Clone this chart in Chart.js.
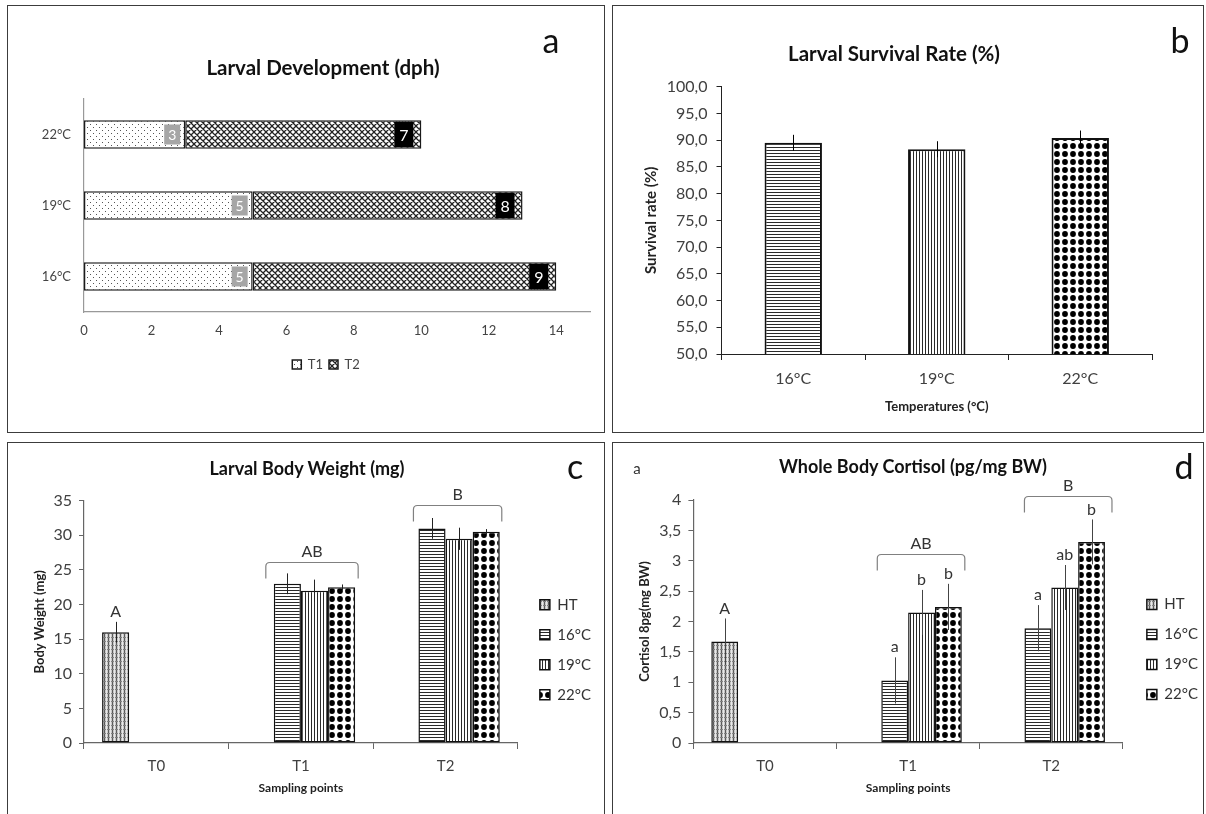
<!DOCTYPE html>
<html><head><meta charset="utf-8">
<script src="https://cdn.jsdelivr.net/npm/chart.js@4.4.1/dist/chart.umd.min.js"></script>
<style>
html,body{margin:0;padding:0;background:#fff;}
body{width:1206px;height:814px;overflow:hidden;position:relative;font-family:Lato,"Liberation Sans",sans-serif;}
.panel{position:absolute;border:1.5px solid #3c3c3c;box-sizing:border-box;}
canvas{position:absolute;}
.t{position:absolute;white-space:nowrap;color:#111;transform:translate(-50%,-50%);line-height:1;}
.ttl{font-weight:bold;font-size:18px;}
.big{font-size:20.5px;}
.let{font-size:34px;}
</style></head><body>
<div class="panel" style="left:7px;top:5px;width:598px;height:428px"></div>
<div class="panel" style="left:612px;top:5px;width:592px;height:428px"></div>
<div class="panel" style="left:7px;top:442px;width:598px;height:390px"></div>
<div class="panel" style="left:612px;top:442px;width:592px;height:390px"></div>
<canvas id="ca" width="596" height="426" style="left:8px;top:6px"></canvas>
<canvas id="cb" width="589" height="426" style="left:613px;top:6px"></canvas>
<canvas id="cc" width="601" height="370" style="left:8px;top:443px"></canvas>
<canvas id="cd" width="603" height="370" style="left:613px;top:443px"></canvas>
<div class="t ttl big" style="left:323px;top:67px">Larval Development (dph)</div>
<div class="t let" style="left:551px;top:40px">a</div>
<div class="t ttl big" style="left:894px;top:53px">Larval Survival Rate (%)</div>
<div class="t let" style="left:1180px;top:40px">b</div>
<div class="t ttl" style="left:307px;top:468px">Larval Body Weight (mg)</div>
<div class="t let" style="left:575px;top:466px">c</div>
<div class="t ttl" style="left:913px;top:466px">Whole Body Cortisol (pg/mg BW)</div>
<div class="t let" style="left:1184px;top:466px">d</div>
<div class="t" style="left:637px;top:468px;font-size:15px;color:#333">a</div>
<script>
// ---------- data ----------
const devCategories = ['22°C', '19°C', '16°C'];
const devT1 = [3, 5, 5];
const devT2 = [7, 8, 9];

const survCategories = ['16°C', '19°C', '22°C'];
const survValues = [89.5, 88.3, 90.4];
const survErrors = [1.5, 1.5, 1.4];

const samplingPoints = ['T0', 'T1', 'T2'];
const groupNames = ['HT', '16°C', '19°C', '22°C'];

const weightHT = [16, null, null];
const weight16 = [null, 23, 31];
const weight19 = [null, 22, 29.5];
const weight22 = [null, 22.5, 30.5];
const weightErrHT = [1.5, null, null];
const weightErr16 = [null, 1.5, 1.5];
const weightErr19 = [null, 1.6, 1.6];
const weightErr22 = [null, 0.4, 0.4];
const weightLettersHT = ['A', '', ''];
const weightGroupLetters = ['', 'AB', 'B'];

const cortHT = [1.67, null, null];
const cort16 = [null, 1.03, 1.89];
const cort19 = [null, 2.15, 2.56];
const cort22 = [null, 2.24, 3.31];
const cortErrHT = [0.38, null, null];
const cortErr16 = [null, 0.38, 0.38];
const cortErr19 = [null, 0.37, 0.37];
const cortErr22 = [null, 0.38, 0.37];
const cortLettersHT = ['A', '', ''];
const cortLetters16 = ['', 'a', 'a'];
const cortLetters19 = ['', 'b', 'ab'];
const cortLetters22 = ['', 'b', 'b'];
const cortGroupLetters = ['', 'AB', 'B'];

// ---------- patterns ----------
function makePattern(w, h, draw) {
  const c = document.createElement('canvas'); c.width = w; c.height = h;
  const x = c.getContext('2d'); draw(x, w, h);
  return x.createPattern(c, 'repeat');
}
const P = {
  dots: makePattern(6, 6, (x) => { x.fillStyle = '#fff'; x.fillRect(0, 0, 6, 6); x.fillStyle = '#555'; x.fillRect(1, 1, 1, 1); x.fillRect(4, 4, 1, 1); }),
  cross: makePattern(6, 6, (x) => {
    x.fillStyle = '#fff'; x.fillRect(0, 0, 6, 6); x.strokeStyle = '#222'; x.lineWidth = 1.3;
    x.beginPath();
    for (let k = -1; k <= 1; k++) { x.moveTo(k * 6 - 1, -1); x.lineTo(k * 6 + 7, 7); x.moveTo(k * 6 + 7, -1); x.lineTo(k * 6 - 1, 7); }
    x.stroke();
  }),
  hlines: makePattern(4, 3, (x) => { x.fillStyle = '#fff'; x.fillRect(0, 0, 4, 3); x.fillStyle = '#2a2a2a'; x.fillRect(0, 0, 4, 1); }),
  vlines: makePattern(3, 4, (x) => { x.fillStyle = '#fff'; x.fillRect(0, 0, 3, 4); x.fillStyle = '#2a2a2a'; x.fillRect(0, 0, 1, 4); }),
  diamonds: makePattern(8, 8, (x) => { x.fillStyle = '#fff'; x.fillRect(0, 0, 8, 8); x.fillStyle = '#000'; x.beginPath(); x.arc(4, 4, 2.9, 0, Math.PI * 2); x.fill(); }),
  plaid: makePattern(4, 4, (x) => { x.fillStyle = '#c8c8c8'; x.fillRect(0, 0, 4, 4); x.fillStyle = '#5a5a5a'; x.fillRect(0, 0, 1, 4); x.fillStyle = '#808080'; x.fillRect(0, 2, 4, 1); x.fillStyle = '#e8e8e8'; x.fillRect(2, 0, 1, 4); })
};

// ---------- overlay plugin (error bars, letters, brackets, labels) ----------
const overlay = {
  id: 'overlay',
  afterLayout(chart, args, o) {
    if (o.legendShift && chart.legend) { chart.legend.left += o.legendShift; chart.legend.right += o.legendShift; }
  },
  afterDatasetsDraw(chart, args, o) {
    const ctx = chart.ctx;
    ctx.save();
    const vs = chart.scales.y;
    (o.errors || []).forEach((arr, di) => {
      if (!arr) return;
      const meta = chart.getDatasetMeta(di);
      arr.forEach((e, i) => {
        const v = chart.data.datasets[di].data[i];
        if (e == null || v == null) return;
        const bar = meta.data[i];
        const x = Math.round(bar.x) + 0.5;
        ctx.strokeStyle = o.errColor || '#000'; ctx.lineWidth = 1;
        ctx.beginPath(); ctx.moveTo(x, vs.getPixelForValue(v - e)); ctx.lineTo(x, vs.getPixelForValue(v + e)); ctx.stroke();
      });
    });
    (o.letters || []).forEach((arr, di) => {
      if (!arr) return;
      const meta = chart.getDatasetMeta(di);
      arr.forEach((t, i) => {
        const v = chart.data.datasets[di].data[i];
        if (!t || v == null) return;
        const e = (o.errors && o.errors[di] && o.errors[di][i]) || 0;
        ctx.fillStyle = '#333'; ctx.font = '16px Lato'; ctx.textAlign = 'center'; ctx.textBaseline = 'bottom';
        ctx.fillText(t, meta.data[i].x, vs.getPixelForValue(v + e) - 2);
      });
    });
    if (o.brackets) {
      const b = o.brackets;
      b.labels.forEach((t, i) => {
        if (!t) return;
        const first = chart.getDatasetMeta(b.from).data[i];
        const last = chart.getDatasetMeta(b.to).data[i];
        const L = first.x - first.width / 2 - b.padL[i];
        const R = last.x + last.width / 2 + b.padR[i];
        const y = Math.round(vs.getPixelForValue(b.level[i])) + 0.5;
        const r = 4, d = b.drop;
        ctx.strokeStyle = '#808080'; ctx.lineWidth = 1.2;
        ctx.beginPath();
        ctx.moveTo(L, y + d); ctx.lineTo(L, y + r); ctx.quadraticCurveTo(L, y, L + r, y);
        ctx.lineTo(R - r, y); ctx.quadraticCurveTo(R, y, R, y + r); ctx.lineTo(R, y + d);
        ctx.stroke();
        ctx.fillStyle = '#333'; ctx.font = '16px Lato'; ctx.textAlign = 'center'; ctx.textBaseline = 'bottom';
        ctx.fillText(t, (L + R) / 2, y - 3);
      });
    }
    if (o.barLabels) {
      o.barLabels.forEach((st, di) => {
        const meta = chart.getDatasetMeta(di);
        meta.data.forEach((bar, i) => {
          const v = chart.data.datasets[di].data[i];
          const h = st.h || (bar.height - 3);
          const right = bar.x - st.gap;
          ctx.fillStyle = st.bg;
          ctx.fillRect(right - st.w, bar.y - h / 2, st.w, h);
          ctx.fillStyle = '#fff'; ctx.font = st.font; ctx.textAlign = 'center'; ctx.textBaseline = 'middle';
          ctx.fillText(String(v), right - st.w / 2, bar.y + 1);
        });
      });
    }
    ctx.restore();
  }
};

Chart.defaults.font.family = 'Lato';
Chart.defaults.color = '#333';
Chart.defaults.animation = false;
Chart.defaults.responsive = false;
Chart.defaults.devicePixelRatio = 1;
Chart.defaults.plugins.tooltip.enabled = false;

const comma = (v, d) => (d == null ? String(v) : v.toFixed(d)).replace('.', ',');

// ---------- a: larval development ----------
new Chart(document.getElementById('ca'), {
  type: 'bar',
  data: {
    labels: devCategories,
    datasets: [
      { label: 'T1', data: devT1, backgroundColor: P.dots, borderColor: '#1a1a1a', borderWidth: 1.5, borderSkipped: false, barPercentage: 0.4, categoryPercentage: 1 },
      { label: 'T2', data: devT2, backgroundColor: P.cross, borderColor: '#1a1a1a', borderWidth: 1.5, borderSkipped: false, barPercentage: 0.4, categoryPercentage: 1 }
    ]
  },
  options: {
    indexAxis: 'y',
    layout: { padding: { left: 0, right: 14, top: 93, bottom: 51 } },
    scales: {
      x: { stacked: true, min: 0, max: 15, ticks: { stepSize: 2, includeBounds: false, font: { size: 13 }, color: '#444', padding: 11 },
           grid: { display: false, drawTicks: false }, border: { color: '#999', width: 1.2 }, afterFit(s) { s.height = 40; } },
      y: { stacked: true, ticks: { font: { size: 13 }, color: '#444', padding: 13 }, grid: { display: false, drawTicks: false },
           border: { color: '#999', width: 1.2 }, afterFit(s) { s.width = 76; } }
    },
    plugins: {
      legend: { position: 'bottom', labels: { boxWidth: 9, boxHeight: 9, padding: 6, font: { size: 13 }, color: '#444' } },
      overlay: {
        legendShift: 27,
        barLabels: [
          { bg: '#a6a6a6', w: 16, h: 20, gap: 5, font: '14px Lato' },
          { bg: '#000', w: 19, gap: 8, font: '16px Lato' }
        ]
      }
    }
  },
  plugins: [overlay]
});

// ---------- b: survival ----------
new Chart(document.getElementById('cb'), {
  type: 'bar',
  data: {
    labels: survCategories,
    datasets: [{
      label: 'Survival', data: survValues,
      backgroundColor: [P.hlines, P.vlines, P.diamonds], borderColor: '#111', borderWidth: 2,
      borderSkipped: false, barPercentage: 0.4, categoryPercentage: 1
    }]
  },
  options: {
    layout: { padding: { left: 0, right: 50, top: 80.7, bottom: 0 } },
    scales: {
      x: { ticks: { font: { size: 16 }, color: '#404040', padding: 9 },
           grid: { offset: true, drawOnChartArea: false, tickLength: 6, color: '#222' }, border: { color: '#222', width: 1 },
           title: { display: true, text: 'Temperatures (°C)', font: { size: 13, weight: 'bold' }, color: '#222', padding: { top: 0, bottom: 17 } },
           afterFit(s) { s.height = 78; } },
      y: { min: 50, max: 100, ticks: { stepSize: 5, font: { size: 16 }, color: '#404040', padding: 9, callback: (v) => comma(v, 1) },
           grid: { drawOnChartArea: false, tickLength: 5, color: '#222' }, border: { color: '#222', width: 1 },
           title: { display: true, text: 'Survival rate (%)', font: { size: 15, weight: 'bold' }, color: '#222', padding: { top: 29, bottom: 0 } },
           afterFit(s) { s.width = 108.5; } }
    },
    plugins: { legend: { display: false }, overlay: { errors: [survErrors] } }
  },
  plugins: [overlay]
});

// ---------- grouped chart builder ----------
function grouped(id, vals, errs, letters, groupLetters, opt) {
  const fills = [P.plaid, P.hlines, P.vlines, P.diamonds];
  return new Chart(document.getElementById(id), {
    type: 'bar',
    data: {
      labels: samplingPoints,
      datasets: vals.map((d, i) => ({
        label: groupNames[i], data: d, backgroundColor: fills[i], borderColor: '#111', borderWidth: 1.5,
        borderSkipped: false, barPercentage: 1, categoryPercentage: 0.75
      }))
    },
    options: {
      layout: { padding: { left: 0, right: opt.padRight, top: opt.top, bottom: opt.bottom } },
      scales: {
        x: { ticks: { font: { size: 15 }, color: '#404040', padding: 8 },
             grid: { offset: true, drawOnChartArea: false, tickLength: 6, color: '#666' }, border: { color: '#666', width: 1.2 },
             title: { display: true, text: 'Sampling points', font: { size: 12, weight: 'bold' }, color: '#222', padding: { top: 0, bottom: 4 } },
             afterFit(s) { s.height = opt.xh; } },
        y: { min: 0, max: opt.max, ticks: { stepSize: opt.step, font: { size: 16 }, color: '#404040', padding: 7, callback: (v) => comma(v) },
             grid: { drawOnChartArea: false, tickLength: 5, color: '#666' }, border: { color: '#666', width: 1.2 },
             title: { display: true, text: opt.ytitle, font: { size: 13, weight: 'bold' }, color: '#222', padding: { top: opt.ytp, bottom: 0 } },
             afterFit(s) { s.width = opt.yw; } },
        gap: { type: 'linear', position: 'right', display: true, grid: { display: false, drawTicks: false }, ticks: { display: false },
               border: { display: false }, afterFit(s) { s.width = opt.gap; } }
      },
      plugins: {
        legend: { position: 'right', labels: { boxWidth: 10, boxHeight: 10, padding: 15, font: { size: 15 }, color: '#333' } },
        overlay: { errors: errs, letters: letters, errColor: opt.errColor, legendShift: -3,
                   brackets: { from: 1, to: 3, labels: groupLetters, level: opt.level, padL: opt.padL, padR: opt.padR, drop: 16 } }
      }
    },
    plugins: [overlay]
  });
}

grouped('cc', [weightHT, weight16, weight19, weight22], [weightErrHT, weightErr16, weightErr19, weightErr22],
  [weightLettersHT, null, null, null], weightGroupLetters,
  { max: 35, step: 5, ytitle: 'Body Weight (mg)', yw: 76, ytp: 24, xh: 56, top: 57.7, bottom: 14, padRight: 5, gap: 10,
    level: [0, 26.1, 34.4], padL: [0, 8, 5], padR: [0, 3, 2], errColor: '#222' });

grouped('cd', [cortHT, cort16, cort19, cort22], [cortErrHT, cortErr16, cortErr19, cortErr22],
  [cortLettersHT, cortLetters16, cortLetters19, cortLetters22], cortGroupLetters,
  { max: 4, step: 0.5, ytitle: 'Cortisol 8pg(mg BW)', yw: 80.4, ytp: 24, xh: 56, top: 57, bottom: 14, padRight: 5, gap: 12,
    level: [0, 3.11, 4.06], padL: [0, 4, 0], padR: [0, 3, 7], errColor: '#444' });
</script>
</body></html>
